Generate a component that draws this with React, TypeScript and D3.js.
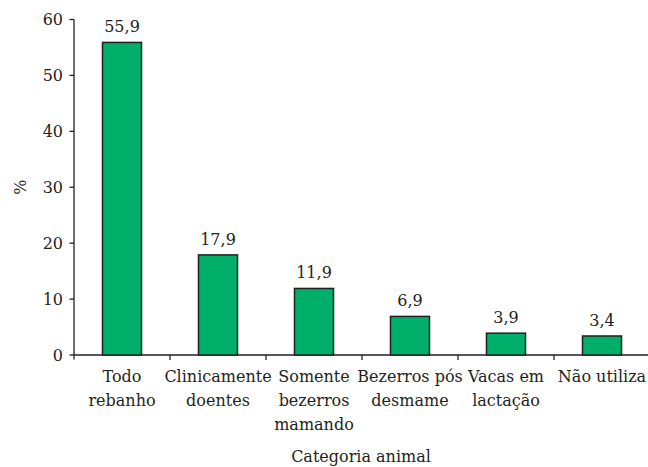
import React from "react";
import * as d3 from "d3";

const categories: string[][] = [
  ["Todo", "rebanho"],
  ["Clinicamente", "doentes"],
  ["Somente", "bezerros", "mamando"],
  ["Bezerros pós", "desmame"],
  ["Vacas em", "lactação"],
  ["Não utiliza"],
];
const values = [55.9, 17.9, 11.9, 6.9, 3.9, 3.4];
const valueLabels = ["55,9", "17,9", "11,9", "6,9", "3,9", "3,4"];
const yTicks = [0, 10, 20, 30, 40, 50, 60];
const yTitle = "%";
const xTitle = "Categoria animal";

const W = 648;
const H = 467;
const font = "DejaVu Serif";
const ink = "#231f20";
const green = "#00b06a";

export default function App() {
  const x0 = 74;
  const x1 = 650;
  const y = d3.scaleLinear().domain([0, 60]).range([355, 19.5]);
  const x = d3
    .scaleBand<number>()
    .domain(values.map((_, i) => i))
    .range([x0, x1])
    .paddingInner(0)
    .paddingOuter(0);
  const bw = 39;
  const fs = 16;
  const ts = { fontFamily: font, fontSize: fs, fill: ink } as React.CSSProperties;
  return (
    <svg
      width={W}
      height={H}
      style={{ position: "absolute", left: 0, top: 0, background: "#fff", fontFamily: font }}
    >
      {/* y axis */}
      <line x1={x0} x2={x0} y1={y(60)} y2={359.5} stroke={ink} strokeWidth={1.3} />
      {yTicks.map((t) => (
        <g key={t}>
          <line x1={x0 - 4.5} x2={x0} y1={y(t)} y2={y(t)} stroke={ink} strokeWidth={1.3} />
          <text x={63} y={y(t)} dy="0.35em" textAnchor="end" style={ts}>
            {t}
          </text>
        </g>
      ))}
      <text
        transform={`translate(26,${(y(0) + y(60)) / 2}) rotate(-90)`}
        textAnchor="middle"
        style={ts}
      >
        {yTitle}
      </text>
      {/* x axis */}
      <line x1={x0} x2={x1} y1={y(0)} y2={y(0)} stroke={ink} strokeWidth={1.3} />
      {values.map((_, i) => (
        <line
          key={"t" + i}
          x1={(x(i) as number) + x.bandwidth()}
          x2={(x(i) as number) + x.bandwidth()}
          y1={y(0)}
          y2={y(0) + 5}
          stroke={ink}
          strokeWidth={1.3}
        />
      ))}
      {values.map((v, i) => {
        const cx = (x(i) as number) + x.bandwidth() / 2;
        return (
          <g key={i}>
            <rect
              x={cx - bw / 2}
              y={y(v)}
              width={bw}
              height={y(0) - y(v)}
              fill={green}
              stroke={ink}
              strokeWidth={1.5}
            />
            <text x={cx} y={y(v) - 10} textAnchor="middle" style={ts}>
              {valueLabels[i]}
            </text>
            {categories[i].map((line, j) => (
              <text key={j} x={cx} y={382 + j * 24} textAnchor="middle" style={ts}>
                {line}
              </text>
            ))}
          </g>
        );
      })}
      <text x={361} y={462} textAnchor="middle" style={ts}>
        {xTitle}
      </text>
    </svg>
  );
}
